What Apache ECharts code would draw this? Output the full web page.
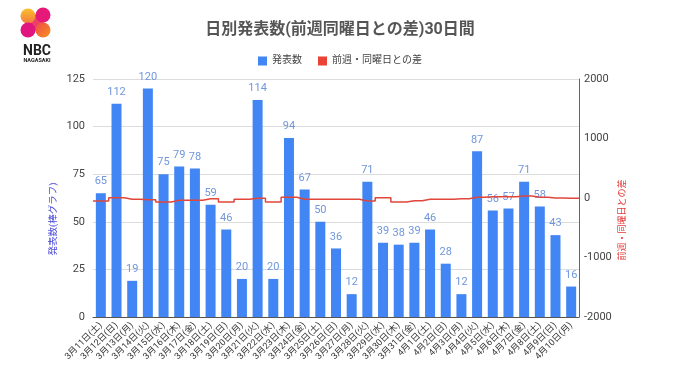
<!DOCTYPE html>
<html>
<head>
<meta charset="utf-8">
<script src="https://cdn.jsdelivr.net/npm/echarts@6/dist/echarts.min.js"></script>
<style>html,body{margin:0;padding:0;background:#fff;}#c{width:680px;height:382px;}</style>
</head>
<body>
<div id="c"></div>
<script>
const categories = ['3月11日(土)','3月12日(日)','3月13日(月)','3月14日(火)','3月15日(水)','3月16日(木)','3月17日(金)','3月18日(土)','3月19日(日)','3月20日(月)','3月21日(火)','3月22日(水)','3月23日(木)','3月24日(金)','3月25日(土)','3月26日(日)','3月27日(月)','3月28日(火)','3月29日(水)','3月30日(木)','3月31日(金)','4月1日(土)','4月2日(日)','4月3日(月)','4月4日(火)','4月5日(水)','4月6日(木)','4月7日(金)','4月8日(土)','4月9日(日)','4月10日(月)'];
const counts = [65,112,19,120,75,79,78,59,46,20,114,20,94,67,50,36,12,71,39,38,39,46,28,12,87,56,57,71,58,43,16];
const diffs = [-50,5,-22,-30,-67,-39,-39,-11,-67,-22,-5,-67,11,-22,-22,-22,-22,-50,5,-67,-45,-22,-22,-11,11,22,22,34,11,0,-5];
const leftTicks = [0,25,50,75,100,125];
const rightTicks = [-2000,-1000,0,1000,2000];

const FONT = 'Roboto, "Noto Sans CJK JP", sans-serif';
const n = categories.length;
const lineData = [[0, diffs[0]]].concat(diffs.map((v, i) => [i + 0.5, v])).concat([[n, diffs[n - 1]]]);

const chart = echarts.init(document.getElementById('c'), null, {renderer: 'canvas'});
chart.setOption({
  backgroundColor: '#fff',
  animation: false,
  textStyle: {fontFamily: FONT},
  title: {
    text: '日別発表数(前週同曜日との差)30日間',
    left: 'center', top: 17,
    textStyle: {fontSize: 16, fontWeight: 'bold', color: '#555', fontFamily: FONT}
  },
  legend: {
    top: 51, left: 'center',
    icon: 'rect', itemWidth: 9, itemHeight: 9, itemGap: 16,
    textStyle: {fontSize: 10, color: '#444', fontFamily: FONT},
    data: ['発表数', '前週・同曜日との差']
  },
  grid: {left: 93, right: 101, top: 79, bottom: 65, containLabel: false},
  xAxis: [{
    type: 'category', data: categories,
    axisLine: {show: true, lineStyle: {color: '#555'}},
    axisTick: {show: false},
    axisLabel: {interval: 0, rotate: 45, fontSize: 9, color: '#333', margin: 7, fontFamily: FONT}
  }, {
    type: 'value', min: 0, max: n, show: false
  }],
  yAxis: [{
    type: 'value', min: leftTicks[0], max: leftTicks[leftTicks.length - 1], interval: 25,
    axisLine: {show: false}, axisTick: {show: false},
    axisLabel: {fontSize: 11, color: '#444', margin: 8, fontFamily: FONT},
    splitLine: {show: true, lineStyle: {color: '#dcdcdc'}}
  }, {
    type: 'value', min: rightTicks[0], max: rightTicks[rightTicks.length - 1], interval: 1000,
    position: 'right',
    axisLine: {show: true, lineStyle: {color: '#666'}}, axisTick: {show: false},
    axisLabel: {fontSize: 11, color: '#444', margin: 5, fontFamily: FONT, formatter: v => String(v)},
    splitLine: {show: false}
  }],
  graphic: [
    {type: 'text', x: 54, y: 219, rotation: Math.PI / 2,
     style: {text: '発表数(棒グラフ)', fill: '#4848d8', fontSize: 9.5, fontFamily: FONT, align: 'center', verticalAlign: 'middle'}},
    {type: 'text', x: 623, y: 220, rotation: Math.PI / 2,
     style: {text: '前週・同曜日との差', fill: '#e53935', fontSize: 9, fontFamily: FONT, align: 'center', verticalAlign: 'middle'}},
    {type: 'line', shape: {x1: 28, y1: 16, x2: 43, y2: 30}, style: {stroke: '#ee3f6a', lineWidth: 12, lineCap: 'round'}},
    {type: 'circle', shape: {cx: 28, cy: 16, r: 7.5},
     style: {fill: new echarts.graphic.LinearGradient(0, 0, 0, 1, [{offset: 0, color: '#fbc02d'}, {offset: 1, color: '#f47a3c'}])}},
    {type: 'circle', shape: {cx: 43, cy: 15, r: 7.5}, style: {fill: '#e6197a'}},
    {type: 'circle', shape: {cx: 28, cy: 30, r: 7.5}, style: {fill: '#e0157f'}},
    {type: 'circle', shape: {cx: 43, cy: 30, r: 7.5},
     style: {fill: new echarts.graphic.LinearGradient(0, 0, 1, 1, [{offset: 0, color: '#ef4a4a'}, {offset: 1, color: '#f7931e'}])}},
    {type: 'text', x: 37, y: 51, style: {text: 'NBC', fill: '#222', fontSize: 14, fontWeight: 'bold', fontFamily: 'Roboto, sans-serif', align: 'center', verticalAlign: 'middle'}},
    {type: 'text', x: 37, y: 61, style: {text: 'NAGASAKI', fill: '#222', fontSize: 5.5, fontWeight: 'bold', fontFamily: 'Roboto, sans-serif', align: 'center', verticalAlign: 'middle'}}
  ],
  series: [{
    name: '発表数', type: 'bar', data: counts,
    xAxisIndex: 0, yAxisIndex: 0,
    barWidth: 10,
    itemStyle: {color: '#4285f4'},
    label: {show: true, position: 'top', distance: 6, fontSize: 11, color: '#7096dc', fontFamily: FONT}
  }, {
    name: '前週・同曜日との差', type: 'line', data: lineData,
    xAxisIndex: 1, yAxisIndex: 1,
    step: 'middle', symbol: 'none',
    lineStyle: {color: '#e0463a', width: 1.5},
    itemStyle: {color: '#ea4335'},
    z: 3
  }]
});
</script>
</body>
</html>
